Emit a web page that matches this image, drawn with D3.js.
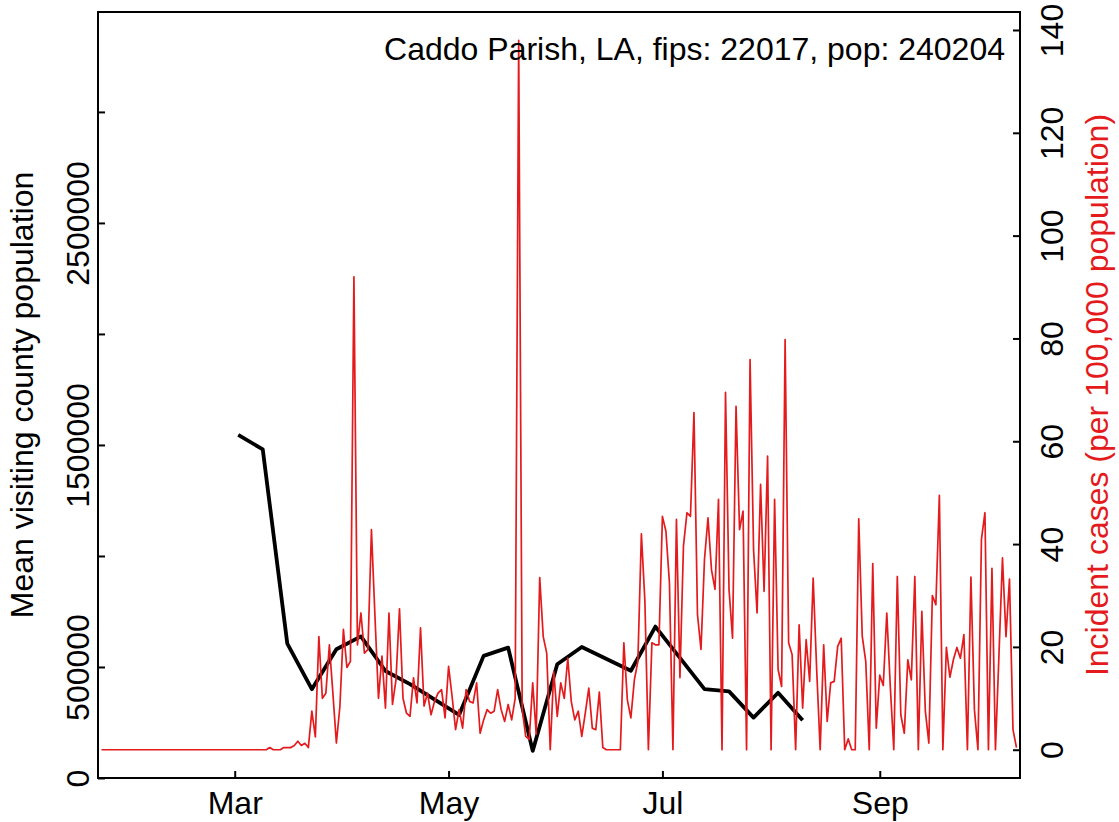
<!DOCTYPE html>
<html>
<head>
<meta charset="utf-8">
<script src="https://cdn.jsdelivr.net/npm/d3@7"></script>
<style>
body { margin: 0; background: #fff; }
svg text { font-family: "Liberation Sans", Arial, Helvetica, sans-serif; }
</style>
</head>
<body>
<div class="chart"></div>
<script>
// daily incident cases per 100k, starting 2020-01-23
const caseStart = new Date(2020, 0, 23);
const cases = [
  0,0,0,0,0,0,0,0,0,0, 0,0,0,0,0,0,0,0,0,0,
  0,0,0,0,0,0,0,0,0,0, 0,0,0,0,0,0,0,0,0,0,
  0,0,0,0,0,0,0,0,
  0.42,0,0,0,0.42,0.42,0.42,0.83,1.66,0.83,
  1.25,0.42,7.5,2.5,22,10,11,20.4,11,1.3,
  8.4,23.4,16,17.2,92,20.4,26.6,18.8,19.5,42.8,
  26,10,18.2,8.1,26.6,8.8,13.6,27.4,10,7.1,
  6.5,14,9.1,23.7,8.5,11,6.8,9.4,11,11.7,
  6.2,16.2,10.4,3.9,7.8,4.2,11.7,9.4,9.1,13,
  3.2,5.8,7.8,7.1,7.5,11.7,7.8,5.5,8.8,5.8,
  10,138,8,2.6,2,13,3,33.5,22,18.8,
  0,15.2,6.5,13,10,17.8,9.4,5.8,7.5,2.6,
  7.1,12,4.2,3.9,11.2,0.42,0,0,0,0,
  0,20.8,9.7,6.2,13.6,17.2,42,28.9,0,20.8,
  20.4,20.4,45.4,42.5,32.5,0,44.8,14,39.6,46.1,
  45.4,65.6,26.3,19.5,37,45.1,35,31.2,48.7,0,
  69.5,31.2,21.7,66.8,42.8,46.4,0,75.9,38.9,26.6,
  51.6,30.8,57.1,0,48.7,15.6,12.3,79.8,20.8,18.5,
  0,24.3,8.1,21.4,13.3,33.4,15.6,0,20.4,5.5,
  13,13.3,20.1,21.7,0,2.1,0,0,44.9,22.1,
  17.2,0,36.2,4.2,14.5,12.5,26.6,12.3,0,33.7,
  6.8,3.2,17.5,13.6,33.7,0,26.9,7.5,1.3,30,
  28.2,49.5,0,19.9,14.1,17.5,19.9,17.8,22.4,0,
  33.6,7.8,0,40.9,46.1,0,35.3,0,18.5,37.3,
  22,33.2,3.9,0.4
];

// weekly mean visiting county population
const visitDates = ['2020-03-02','2020-03-09','2020-03-16','2020-03-23','2020-03-30',
  '2020-04-06','2020-04-13','2020-04-20','2020-05-04','2020-05-11','2020-05-18',
  '2020-05-25','2020-06-01','2020-06-08','2020-06-22','2020-06-29','2020-07-13',
  '2020-07-20','2020-07-27','2020-08-03','2020-08-10'];
const visitValues = [1545000,1480000,605000,400000,580000,638000,482000,423000,
  284000,550000,587000,122000,512000,590000,483000,682000,400000,390000,
  272000,384000,260000];

const monthTicks = ['2020-03-01','2020-05-01','2020-07-01','2020-09-01'];
const leftTicks = [0,500000,1000000,1500000,2000000,2500000,3000000];
const leftLabels = ['0','500000','','1500000','','2500000',''];
const rightTicks = [0,20,40,60,80,100,120,140];
const title = 'Caddo Parish, LA, fips: 22017, pop: 240204';

const width = 1119, height = 822;
const plotLeft = 98, plotRight = 1020, plotTop = 12, plotBottom = 778;
const red = '#E41A1C';
const fontSize = 32;

const parse = d3.timeParse('%Y-%m-%d');

const svg = d3.select('.chart')
    .append('svg')
    .attr('width', width)
    .attr('height', height);

const x = d3.scaleTime()
    .domain([new Date(2020, 0, 22), new Date(2020, 9, 11)])
    .range([plotLeft, plotRight]);
const yLeft = d3.scaleLinear().domain([0, 3450000]).range([plotBottom, plotTop]);
const yRight = d3.scaleLinear().domain([-5.5, 143.5]).range([plotBottom, plotTop]);

// black weekly line
const visits = visitDates.map((d, i) => ({date: parse(d), value: visitValues[i]}));
svg.append('path')
    .datum(visits)
    .attr('fill', 'none')
    .attr('stroke', 'black')
    .attr('stroke-width', 3.8)
    .attr('stroke-linejoin', 'round')
    .attr('d', d3.line().x(d => x(d.date)).y(d => yLeft(d.value)));

// red daily line
const caseData = cases.map((v, i) => ({date: d3.timeDay.offset(caseStart, i), value: v}));
svg.append('path')
    .datum(caseData)
    .attr('fill', 'none')
    .attr('stroke', red)
    .attr('stroke-width', 1.7)
    .attr('stroke-linejoin', 'round')
    .attr('d', d3.line().x(d => x(d.date)).y(d => yRight(d.value)));

// box
svg.append('rect')
    .attr('x', plotLeft).attr('y', plotTop)
    .attr('width', plotRight - plotLeft).attr('height', plotBottom - plotTop)
    .attr('fill', 'none').attr('stroke', 'black').attr('stroke-width', 2);

function styleAxis(g) {
    g.select('.domain').remove();
    g.selectAll('.tick line').attr('stroke', 'black').attr('stroke-width', 2);
    g.selectAll('.tick text')
        .attr('fill', 'black')
        .style('font-size', fontSize + 'px')
        .style('font-family', '"Liberation Sans", Arial, sans-serif');
}

// bottom axis
svg.append('g')
    .attr('transform', `translate(0,${plotBottom})`)
    .call(d3.axisBottom(x).tickValues(monthTicks.map(parse)).tickFormat(d3.timeFormat('%b')).tickSize(-7))
    .call(styleAxis)
    .call(g => g.selectAll('.tick text').attr('y', 36).attr('dy', 0));

// left axis
svg.append('g')
    .attr('transform', `translate(${plotLeft},0)`)
    .call(d3.axisLeft(yLeft).tickValues(leftTicks).tickFormat((d, i) => leftLabels[i]).tickSize(-7))
    .call(styleAxis)
    .call(g => g.selectAll('.tick text')
        .attr('x', 0).attr('dy', 0)
        .attr('text-anchor', 'middle')
        .attr('transform', 'translate(-9,0) rotate(-90)'));

// right axis
svg.append('g')
    .attr('transform', `translate(${plotRight},0)`)
    .call(d3.axisRight(yRight).tickValues(rightTicks).tickSize(-7))
    .call(styleAxis)
    .call(g => g.selectAll('.tick text')
        .attr('x', 0).attr('dy', 0)
        .attr('text-anchor', 'middle')
        .attr('transform', 'translate(43,0) rotate(-90)'));

// axis titles
svg.append('text')
    .attr('transform', `translate(33,${(plotTop + plotBottom) / 2}) rotate(-90)`)
    .attr('text-anchor', 'middle')
    .style('font-size', fontSize + 'px')
    .text('Mean visiting county population');

svg.append('text')
    .attr('transform', `translate(1108,${(plotTop + plotBottom) / 2}) rotate(-90)`)
    .attr('text-anchor', 'middle')
    .attr('fill', red)
    .style('font-size', fontSize + 'px')
    .text('Incident cases (per 100,000 population)');

// title inside plot
svg.append('text')
    .attr('x', 1005)
    .attr('y', 60)
    .attr('text-anchor', 'end')
    .style('font-size', fontSize + 'px')
    .text(title);
</script>
</body>
</html>
